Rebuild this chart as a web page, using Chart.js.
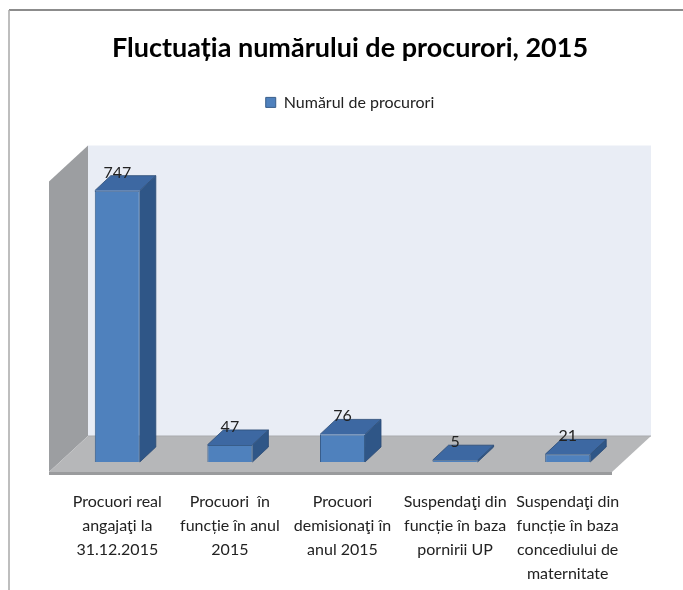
<!DOCTYPE html>
<html>
<head>
  <meta charset="utf-8">
  <title>Fluctuația numărului de procurori, 2015</title>
  <script src="https://cdn.jsdelivr.net/npm/chart.js@4.4.1/dist/chart.umd.min.js"></script>
  <style>
    body { margin: 0; background: #fff; }
  </style>
</head>
<body>
  <canvas id="myBarChart" width="683" height="590"></canvas>

  <script>
    const categories = [
      ['Procuori real', 'angajaţi la', '31.12.2015'],
      ['Procuori  în', 'funcție în anul', '2015'],
      ['Procuori', 'demisionaţi în', 'anul 2015'],
      ['Suspendaţi din', 'funcție în baza', 'pornirii UP'],
      ['Suspendaţi din', 'funcție în baza', 'concediului de', 'maternitate']
    ];
    const values = [747, 47, 76, 5, 21];
    const seriesName = 'Numărul de procurori';
    const chartTitle = 'Fluctuația numărului de procurori, 2015';
    const axisMax = 800;

    const FONT = "Lato, 'Liberation Sans', sans-serif";

    // fake 3d: offsets of the bar depth and of the room walls
    const barDepth = { dx: 16, dy: -15 };
    const backWall = { dx: 27, dy: -26 };
    const frontEdge = { dx: -12, dy: 10 };

    function poly(ctx, pts, fill) {
      ctx.beginPath();
      ctx.moveTo(pts[0][0], pts[0][1]);
      for (let i = 1; i < pts.length; i++) ctx.lineTo(pts[i][0], pts[i][1]);
      ctx.closePath();
      ctx.fillStyle = fill;
      ctx.fill();
    }

    const frame = {
      id: 'frame',
      beforeDraw(chart) {
        const ctx = chart.ctx;
        ctx.save();
        ctx.strokeStyle = '#8c8c8c';
        ctx.lineWidth = 2;
        ctx.beginPath();
        ctx.moveTo(9, 10);
        ctx.lineTo(chart.width, 10);
        ctx.stroke();
        ctx.strokeStyle = '#a8a8a8';
        ctx.lineWidth = 1.5;
        ctx.beginPath();
        ctx.moveTo(9, 10);
        ctx.lineTo(9, chart.height);
        ctx.stroke();
        ctx.restore();
      }
    };

    const room = {
      id: 'room',
      beforeDatasetsDraw(chart) {
        const ctx = chart.ctx;
        const a = chart.chartArea;
        const top = chart.scales.y.getPixelForValue(axisMax);
        const base = chart.scales.y.getPixelForValue(0);
        const b = backWall, f = frontEdge;
        ctx.save();
        // back wall
        poly(ctx, [[a.left + b.dx, top + b.dy], [a.right + b.dx, top + b.dy],
                   [a.right + b.dx, base + b.dy], [a.left + b.dx, base + b.dy]], '#e9edf5');
        // left wall
        poly(ctx, [[a.left + f.dx, top + f.dy], [a.left + b.dx, top + b.dy],
                   [a.left + b.dx, base + b.dy], [a.left + f.dx, base + f.dy]], '#9c9ea1');
        // floor
        poly(ctx, [[a.left + b.dx, base + b.dy], [a.right + b.dx, base + b.dy],
                   [a.right + f.dx, base + f.dy], [a.left + f.dx, base + f.dy]], '#b6b7b9');
        // floor edge
        poly(ctx, [[a.left + f.dx, base + f.dy], [a.right + f.dx, base + f.dy],
                   [a.right + f.dx, base + f.dy + 3], [a.left + f.dx, base + f.dy + 3]], '#9a9b9d');
        ctx.strokeStyle = '#a9abae';
        ctx.lineWidth = 1;
        ctx.beginPath();
        ctx.moveTo(a.left + b.dx, base + b.dy);
        ctx.lineTo(a.right + b.dx, base + b.dy);
        ctx.stroke();
        ctx.restore();
      },
      afterDatasetsDraw(chart) {
        const ctx = chart.ctx;
        const d = barDepth;
        ctx.save();
        chart.getDatasetMeta(0).data.forEach((bar, i) => {
          const p = bar.getProps(['x', 'y', 'base', 'width'], true);
          const l = p.x - p.width / 2, r = p.x + p.width / 2;
          poly(ctx, [[l, p.y], [l + d.dx, p.y + d.dy], [r + d.dx, p.y + d.dy], [r, p.y]], '#3d68a2');
          poly(ctx, [[r, p.y], [r + d.dx, p.y + d.dy], [r + d.dx, p.base + d.dy], [r, p.base]], '#2f5687');
          ctx.strokeStyle = '#2a4a75';
          ctx.lineWidth = 0.8;
          ctx.beginPath();
          ctx.moveTo(l, p.y);
          ctx.lineTo(l + d.dx, p.y + d.dy);
          ctx.lineTo(r + d.dx, p.y + d.dy);
          ctx.lineTo(r + d.dx, p.base + d.dy);
          ctx.lineTo(r, p.base);
          ctx.moveTo(r, p.y);
          ctx.lineTo(r + d.dx, p.y + d.dy);
          ctx.stroke();

          ctx.fillStyle = '#222';
          ctx.font = '16px ' + FONT;
          ctx.textAlign = 'center';
          ctx.textBaseline = 'alphabetic';
          ctx.fillText(String(values[i]), p.x, p.y + d.dy + 2);
        });
        ctx.restore();
      }
    };

    const legendSpace = {
      id: 'legendSpace',
      beforeInit(chart) {
        const fit = chart.legend.fit;
        chart.legend.fit = function () {
          fit.bind(chart.legend)();
          this.height += 51;
        };
      }
    };

    const data = {
      labels: categories,
      datasets: [{
        label: seriesName,
        data: values,
        backgroundColor: '#4f81bd',
        borderColor: '#385d8a',
        borderWidth: 1,
        barPercentage: 1,
        categoryPercentage: 0.4
      }]
    };

    const config = {
      type: 'bar',
      data: data,
      options: {
        responsive: false,
        animation: false,
        devicePixelRatio: 1,
        layout: { padding: { left: 61, right: 44, top: 0, bottom: 5 } },
        plugins: {
          title: {
            display: true,
            text: chartTitle,
            color: '#000',
            font: { family: FONT, size: 27, weight: 'bold' },
            padding: { top: 32, bottom: 26 }
          },
          legend: {
            display: true,
            labels: {
              color: '#222',
              font: { family: FONT, size: 16 },
              boxWidth: 10,
              boxHeight: 10,
              padding: 4
            }
          },
          tooltip: { enabled: false }
        },
        scales: {
          x: {
            grid: { display: false, drawTicks: false },
            border: { display: false },
            afterFit(scale) {
              scale.height -= 29;
            },
            ticks: {
              color: '#222',
              font: { family: FONT, size: 16, lineHeight: 1.5 },
              padding: 28,
              autoSkip: false,
              maxRotation: 0
            }
          },
          y: {
            position: 'right',
            min: 0,
            max: axisMax,
            grid: { display: false, drawTicks: false },
            border: { display: false },
            ticks: { display: false },
            afterFit(scale) {
              scale.width = 15;
            }
          }
        }
      },
      plugins: [frame, room, legendSpace]
    };

    const ctxBar = document.getElementById('myBarChart');
    new Chart(ctxBar, config);
  </script>
</body>
</html>
